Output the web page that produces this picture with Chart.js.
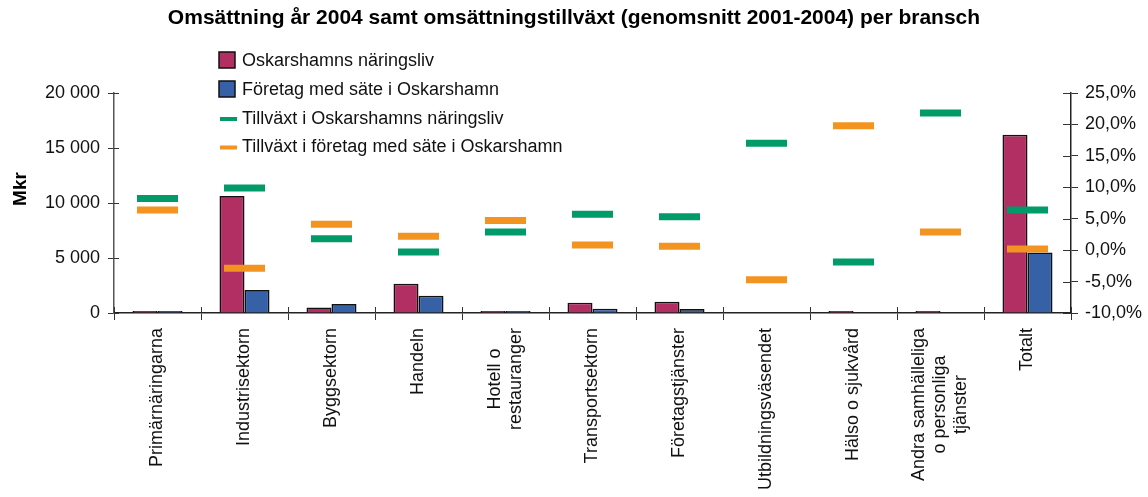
<!DOCTYPE html>
<html>
<head>
<meta charset="utf-8">
<script src="https://cdn.jsdelivr.net/npm/chart.js@4.4.0/dist/chart.umd.min.js"></script>
<style>
  html, body { margin: 0; padding: 0; background: #fff; }
  #wrap { width: 1148px; height: 497px; position: relative; }
</style>
</head>
<body>
<div id="wrap"><canvas id="c" width="1148" height="497"></canvas></div>
<script>
// ---- data ----
const categories = [
  "Primärnäringarna",
  "Industrisektorn",
  "Byggsektorn",
  "Handeln",
  ["Hotell o", "restauranger"],
  "Transportsektorn",
  "Företagstjänster",
  "Utbildningsväsendet",
  "Hälso o sjukvård",
  ["Andra samhälleliga", "o personliga", "tjänster"],
  "Totalt"
];
const oskarshamnsNaringsliv = [190, 10630, 500, 2650, 190, 930, 1020, 0, 190, 190, 16200];
const foretagMedSate       = [180, 2080, 810, 1560, 180, 390, 360, 0, 0, 0, 5510];
const tillvaxtNaringsliv   = [8.2, 9.9, 1.8, -0.3, 2.9, 5.7, 5.3, 17.0, -1.9, 21.8, 6.4];
const tillvaxtForetag      = [6.4, -2.9, 4.1, 2.2, 4.7, 0.8, 0.6, -4.7, 19.8, 2.9, 0.2];
const leftTicks = [0, 5000, 10000, 15000, 20000];
const rightTicks = [-10, -5, 0, 5, 10, 15, 20, 25];
const seriesNames = [
  "Oskarshamns näringsliv",
  "Företag med säte i Oskarshamn",
  "Tillväxt i Oskarshamns näringsliv",
  "Tillväxt i företag med säte i Oskarshamn"
];
const titleText = "Omsättning år 2004 samt omsättningstillväxt (genomsnitt 2001-2004) per bransch";

// ---- styles ----
const RED = "#b12f63", BLUE = "#3661a6", GREEN = "#009b68", ORANGE = "#f2941f";
const FONT = '"Liberation Sans", Arial, Helvetica, sans-serif';

const extras = {
  id: 'extras',
  afterDraw(chart) {
    const ctx = chart.ctx;
    const xs = chart.scales.x, y = chart.scales.y, y1 = chart.scales.y1;
    const area = chart.chartArea;
    ctx.save();
    // inner tick parts
    ctx.strokeStyle = '#333';
    ctx.lineWidth = 1;
    y.ticks.forEach(t => {
      const py = Math.round(y.getPixelForValue(t.value)) + 0.5;
      ctx.beginPath(); ctx.moveTo(area.left, py); ctx.lineTo(area.left + 5, py); ctx.stroke();
    });
    y1.ticks.forEach(t => {
      const py = Math.round(y1.getPixelForValue(t.value)) + 0.5;
      ctx.beginPath(); ctx.moveTo(area.right - 8, py); ctx.lineTo(area.right, py); ctx.stroke();
    });
    const n = categories.length;
    for (let i = 0; i <= n; i++) {
      const px = Math.round(area.left + (area.right - area.left) * i / n) + 0.5;
      ctx.beginPath(); ctx.moveTo(px, area.bottom - 6); ctx.lineTo(px, area.bottom); ctx.stroke();
    }
    // category labels (rotated, centered lines)
    ctx.fillStyle = '#111';
    ctx.font = '18px ' + FONT;
    categories.forEach((lab, i) => {
      const lines = Array.isArray(lab) ? lab : [lab];
      const W = Math.max(...lines.map(l => ctx.measureText(l).width));
      const px = xs.getPixelForValue(i);
      ctx.save();
      ctx.translate(px, area.bottom + 15);
      ctx.rotate(-Math.PI / 2);
      ctx.textAlign = 'center';
      ctx.textBaseline = 'middle';
      lines.forEach((l, j) => {
        ctx.fillText(l, -W / 2, (j - (lines.length - 1) / 2) * 21);
      });
      ctx.restore();
    });
    // y axis title
    ctx.save();
    ctx.translate(21, 189);
    ctx.rotate(-Math.PI / 2);
    ctx.font = 'bold 19px ' + FONT;
    ctx.textAlign = 'center';
    ctx.textBaseline = 'middle';
    ctx.fillStyle = '#000';
    ctx.fillText('Mkr', 0, 0);
    ctx.restore();
    // legend
    ctx.font = '18px ' + FONT;
    ctx.textAlign = 'left';
    ctx.textBaseline = 'middle';
    const rows = [61, 90, 119, 147.5];
    [RED, BLUE].forEach((c, k) => {
      ctx.fillStyle = c;
      ctx.fillRect(219, rows[k] - 9, 16, 16);
      ctx.strokeStyle = '#111';
      ctx.lineWidth = 1.5;
      ctx.strokeRect(219, rows[k] - 9, 16, 16);
    });
    [GREEN, ORANGE].forEach((c, k) => {
      ctx.fillStyle = c;
      ctx.fillRect(220, rows[k + 2] - 2, 17, 4);
    });
    ctx.fillStyle = '#111';
    seriesNames.forEach((s, k) => ctx.fillText(s, 242, rows[k]));
    ctx.restore();
  }
};

const fmtThousands = v => String(v).replace(/\B(?=(\d{3})+(?!\d))/g, ' ');

new Chart(document.getElementById('c'), {
  type: 'bar',
  data: {
    labels: categories,
    datasets: [
      {
        type: 'line', label: seriesNames[2], data: tillvaxtNaringsliv, yAxisID: 'y1',
        showLine: false, pointStyle: 'line', pointRadius: 20.5, pointBorderWidth: 7,
        pointBorderColor: GREEN, pointBackgroundColor: GREEN, borderColor: GREEN, order: 0
      },
      {
        type: 'line', label: seriesNames[3], data: tillvaxtForetag, yAxisID: 'y1',
        showLine: false, pointStyle: 'line', pointRadius: 20.5, pointBorderWidth: 7,
        pointBorderColor: ORANGE, pointBackgroundColor: ORANGE, borderColor: ORANGE, order: 0
      },
      {
        label: seriesNames[0], data: oskarshamnsNaringsliv, yAxisID: 'y',
        backgroundColor: RED, borderColor: '#111', borderWidth: 1.6,
        categoryPercentage: 0.575, barPercentage: 1.0, order: 1
      },
      {
        label: seriesNames[1], data: foretagMedSate, yAxisID: 'y',
        backgroundColor: BLUE, borderColor: '#111', borderWidth: 1.6,
        categoryPercentage: 0.575, barPercentage: 1.0, order: 1
      }
    ]
  },
  options: {
    responsive: false,
    animation: false,
    events: [],
    layout: { padding: 0 },
    plugins: {
      legend: { display: false },
      tooltip: { enabled: false },
      title: {
        display: true, text: titleText, color: '#000',
        font: { family: FONT, size: 21, weight: 'bold', lineHeight: 1.2 },
        padding: { top: 6, bottom: 61.8 }
      }
    },
    scales: {
      x: {
        offset: true,
        grid: { offset: true, drawOnChartArea: false, tickLength: 7, color: '#333', lineWidth: 1 },
        border: { color: '#222', width: 1.5 },
        ticks: { display: false },
        afterFit: s => { s.height = 184; }
      },
      y: {
        position: 'left', min: 0, max: 20000,
        afterBuildTicks: s => { s.ticks = leftTicks.map(v => ({ value: v })); },
        ticks: { callback: v => fmtThousands(v), color: '#111', font: { family: FONT, size: 18 }, padding: 8 },
        grid: { drawOnChartArea: false, tickLength: 6, color: '#333', lineWidth: 1 },
        border: { color: '#555', width: 1.5 },
        afterFit: s => { s.width = 114; }
      },
      y1: {
        position: 'right', min: -10, max: 25,
        afterBuildTicks: s => { s.ticks = rightTicks.map(v => ({ value: v })); },
        ticks: { callback: v => v.toFixed(1).replace('.', ',') + '%', color: '#111', font: { family: FONT, size: 18 }, padding: 7 },
        grid: { drawOnChartArea: false, tickLength: 7, color: '#333', lineWidth: 1 },
        border: { color: '#222', width: 1.5 },
        afterFit: s => { s.width = 77; }
      }
    }
  },
  plugins: [extras]
});
</script>
</body>
</html>
